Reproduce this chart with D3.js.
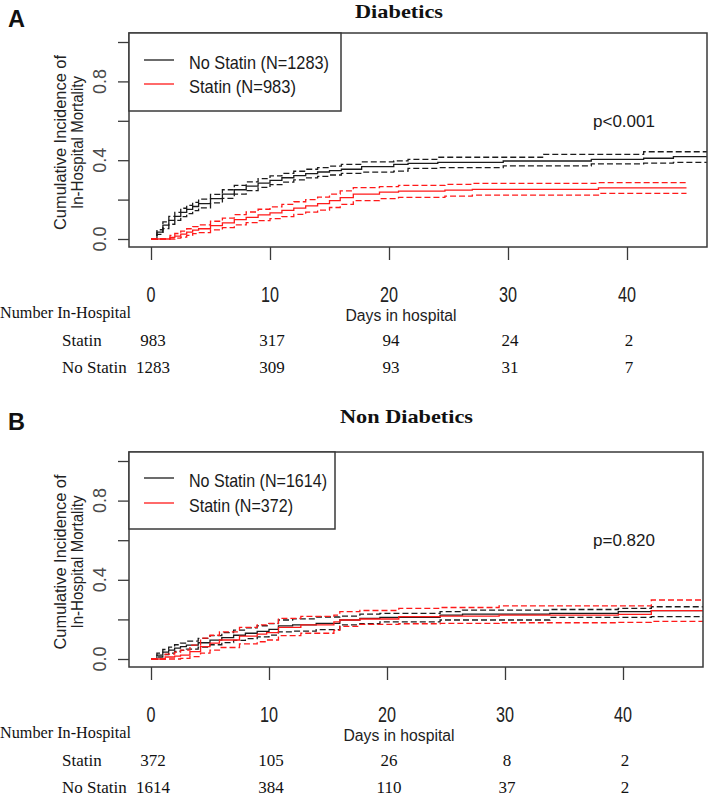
<!DOCTYPE html>
<html><head><meta charset="utf-8">
<script src="https://cdn.jsdelivr.net/npm/d3@7"></script>
<style>body{margin:0;background:#fff}svg{display:block}</style>
</head><body>
<svg id="chart" width="709" height="798"></svg>
<script>
// ---------------- DATA ----------------
const xTicks = [0, 10, 20, 30, 40];
const yTicks = [0, 0.2, 0.4, 0.6, 0.8, 1.0];
const yTickLabels = ["0.0", "", "0.4", "", "0.8", ""];
const groupNames = ["No Statin", "Statin"];

// Panel A: Diabetics
const aTitle = "Diabetics";
const aLegend = ["No Statin (N=1283)", "Statin (N=983)"];
const aPValue = "p<0.001";
const aRiskStatin = [983, 317, 94, 24, 2];
const aRiskNoStatin = [1283, 309, 93, 31, 7];

const aNoStatinT   = [0, 0.5, 1, 1.5, 2, 2.5, 3, 3.5, 4, 5, 6, 7, 8, 9, 10, 11, 12, 13, 14, 15, 16, 17.7, 20.4, 21.6, 24.1, 29.6, 33, 37, 41.4, 43.9, 48];
const aNoStatinEst = [0, .035, .07, .095, .115, .135, .15, .165, .18, .205, .228, .25, .268, .284, .298, .311, .322, .332, .34, .347, .354, .367, .379, .384, .389, .396, .396, .404, .41, .418, .418];
const aNoStatinLo  = [0, .023, .053, .075, .095, .114, .129, .144, .158, .183, .206, .228, .246, .262, .276, .289, .300, .310, .318, .325, .333, .339, .345, .359, .362, .371, .371, .381, .385, .389, .389];
const aNoStatinHi  = [0, .047, .087, .115, .135, .156, .171, .186, .202, .227, .25, .272, .29, .306, .32, .333, .344, .354, .362, .37, .379, .392, .397, .404, .415, .415, .43, .43, .443, .443, .443];

const aStatinT   = [0, 1.6, 2, 2.5, 3, 3.5, 4, 5, 6, 7, 8, 9, 10, 11, 12, 13, 14, 15, 15.9, 17, 19.2, 20.8, 24.7, 27, 37.6, 45];
const aStatinEst = [0, .008, .015, .025, .035, .045, .052, .068, .082, .098, .11, .122, .133, .145, .157, .168, .18, .195, .21, .228, .238, .243, .248, .252, .26, .26];
const aStatinLo  = [0, 0, .004, .01, .018, .027, .032, .046, .058, .072, .083, .093, .103, .114, .125, .136, .147, .16, .176, .195, .205, .211, .218, .223, .232, .232];
const aStatinHi  = [0, .018, .028, .04, .052, .063, .072, .09, .106, .124, .137, .151, .163, .176, .189, .2, .213, .228, .244, .261, .266, .272, .277, .282, .286, .286];

// Panel B: Non Diabetics
const bTitle = "Non Diabetics";
const bLegend = ["No Statin (N=1614)", "Statin (N=372)"];
const bPValue = "p=0.820";
const bRiskStatin = [372, 105, 26, 8, 2];
const bRiskNoStatin = [1614, 384, 110, 37, 2];

const bNoStatinT   = [0, 0.5, 1, 1.5, 2, 2.5, 3, 4, 5, 6, 7, 8, 9, 10, 10.8, 12, 14, 16, 17.7, 19.4, 24.5, 26.4, 33.8, 39.6, 42.4, 48];
const bNoStatinEst = [0, .02, .035, .045, .055, .062, .07, .082, .095, .108, .12, .13, .14, .15, .167, .172, .18, .197, .205, .21, .222, .227, .23, .239, .244, .244];
const bNoStatinLo  = [0, .01, .022, .03, .038, .044, .05, .06, .072, .083, .094, .103, .112, .121, .137, .141, .148, .172, .178, .188, .197, .197, .21, .21, .214, .214];
const bNoStatinHi  = [0, .03, .048, .06, .072, .08, .09, .104, .118, .133, .146, .157, .168, .179, .197, .203, .212, .217, .227, .23, .239, .247, .25, .256, .264, .264];

const bStatinT   = [0, 1.2, 2, 2.5, 3.3, 4.2, 5, 5.8, 7.5, 9, 9.8, 10.8, 12.7, 15.5, 16, 17.7, 21, 24.5, 29.5, 39.6, 42.4, 48];
const bStatinEst = [0, .01, .015, .02, .037, .062, .08, .096, .116, .126, .133, .16, .172, .188, .197, .202, .214, .217, .222, .225, .244, .244];
const bStatinLo  = [0, 0, 0, .003, .012, .03, .045, .058, .076, .087, .096, .118, .13, .145, .165, .175, .178, .18, .183, .185, .19, .19];
const bStatinHi  = [0, .025, .035, .045, .07, .105, .12, .137, .16, .172, .18, .205, .215, .222, .239, .245, .256, .26, .268, .268, .298, .298];

// ---------------- DRAWING ----------------
const svg = d3.select("#chart");
const SANS = "'Liberation Sans', Arial, sans-serif";
const SERIF = "'Liberation Serif', 'Times New Roman', serif";
const BLACK = "#1c1c1c", RED = "#ff1a1a", FRAME = "#3a3a3a";

function txt(g, s, x, y, opts) {
  const t = g.append("text").attr("x", x).attr("y", y).text(s)
    .attr("font-family", opts.family || SANS)
    .attr("font-size", opts.size)
    .attr("fill", opts.fill || "#111")
    .attr("text-anchor", opts.anchor || "start");
  if (opts.weight) t.attr("font-weight", opts.weight);
  if (opts.len) t.attr("textLength", opts.len).attr("lengthAdjust", "spacingAndGlyphs");
  return t;
}

function zip(T, V) { return T.map((t, i) => [t, V[i]]); }

function panel(cfg) {
  const g = svg.append("g");
  const x = d3.scaleLinear().domain([0, 40]).range([cfg.x0, cfg.x40]);
  const y = d3.scaleLinear().domain([0, 1]).range([cfg.y0, cfg.y1]);
  const box = cfg.box;
  const clipId = "clip" + cfg.id;
  svg.append("clipPath").attr("id", clipId).append("rect")
    .attr("x", box.l).attr("y", box.t).attr("width", box.r - box.l).attr("height", box.b - box.t);

  // panel letter & title
  txt(g, cfg.letter, 8, cfg.letterY, {size: 23, weight: "bold", len: 17});
  txt(g, cfg.title, cfg.titleX, cfg.titleY, {family: SERIF, size: 19, weight: "bold", anchor: "start", len: cfg.titleLen});

  // curves
  const line = d3.line().x(d => x(d[0])).y(d => y(d[1])).curve(d3.curveStepAfter);
  const cg = g.append("g").attr("clip-path", `url(#${clipId})`);
  cfg.series.forEach(s => {
    [[s.lo, "6,3"], [s.hi, "6,3"], [s.est, null]].forEach(([v, dash]) => {
      const p = cg.append("path").datum(zip(s.t, v)).attr("d", line)
        .attr("fill", "none").attr("stroke", s.color).attr("stroke-width", 1.3);
      if (dash) p.attr("stroke-dasharray", dash);
    });
  });

  // frame
  g.append("rect").attr("x", box.l).attr("y", box.t).attr("width", box.r - box.l).attr("height", box.b - box.t)
    .attr("fill", "none").attr("stroke", FRAME).attr("stroke-width", 1.5);

  // y axis
  const yAxis = d3.axisLeft(y).tickValues(yTicks).tickSize(11).tickFormat("");
  const ya = g.append("g").attr("transform", `translate(${box.l},0)`).call(yAxis);
  ya.select(".domain").remove();
  ya.selectAll("line").attr("stroke", FRAME).attr("stroke-width", 1.3);
  yTicks.forEach((v, i) => {
    if (!yTickLabels[i]) return;
    g.append("text").attr("transform", `translate(100,${y(v)}) rotate(-90)`)
      .attr("text-anchor", "middle").attr("dy", "0.36em")
      .attr("font-family", SANS).attr("font-size", 18).attr("fill", "#4a4a4a")
      .text(yTickLabels[i]);
  });
  const ymid = (y(0) + y(1)) / 2 + 2;
  g.append("text").attr("transform", `translate(60,${ymid}) rotate(-90)`)
    .attr("text-anchor", "middle").attr("dy", "0.36em")
    .attr("font-family", SANS).attr("font-size", 16).attr("fill", "#222")
    .attr("textLength", 175).attr("lengthAdjust", "spacingAndGlyphs")
    .text("Cumulative Incidence of");
  g.append("text").attr("transform", `translate(77,${ymid}) rotate(-90)`)
    .attr("text-anchor", "middle").attr("dy", "0.36em")
    .attr("font-family", SANS).attr("font-size", 16).attr("fill", "#222")
    .attr("textLength", 133).attr("lengthAdjust", "spacingAndGlyphs")
    .text("In-Hospital Mortality");

  // x axis
  const xAxis = d3.axisBottom(x).tickValues(xTicks).tickSize(13).tickFormat("");
  const xa = g.append("g").attr("transform", `translate(0,${box.b})`).call(xAxis);
  xa.select(".domain").remove();
  xa.selectAll("line").attr("stroke", FRAME).attr("stroke-width", 1.3);
  xTicks.forEach(v => {
    const s = String(v);
    txt(g, s, x(v), box.b + 55, {size: 22, anchor: "middle", fill: "#222", len: s.length * 9});
  });
  txt(g, "Days in hospital", (box.l + box.r) / 2 - 17, box.b + 74, {size: 16, anchor: "middle", fill: "#222", len: 111});

  // legend
  const lg = cfg.legend;
  g.append("rect").attr("x", box.l).attr("y", box.t).attr("width", lg.w).attr("height", lg.h)
    .attr("fill", "#fff").attr("stroke", FRAME).attr("stroke-width", 1.5);
  cfg.series.forEach((s, i) => {
    const cy = box.t + lg.rows[i];
    g.append("line").attr("x1", 144).attr("x2", 174).attr("y1", cy - 2).attr("y2", cy - 2)
      .attr("stroke", s.color).attr("stroke-width", 1.3);
    txt(g, cfg.legendLabels[i], 189, cy + 6.5, {size: 19, fill: "#1a1a1a", len: lg.lens[i]});
  });

  // p value
  txt(g, cfg.pValue, 593, cfg.pY, {size: 17, fill: "#1a1a1a", len: 62});

  // number at risk table
  const tb = box.b;
  txt(g, "Number In-Hospital", 0, tb + 71, {family: SERIF, size: 17, len: 131});
  const rows = [["Statin", cfg.riskStatin], ["No Statin", cfg.riskNoStatin]];
  rows.forEach(([lab, vals], r) => {
    const by = tb + 99 + r * 27;
    txt(g, lab, 62, by, {family: SERIF, size: 17});
    vals.forEach((v, i) => {
      txt(g, String(v), x(xTicks[i]) + 2, by, {family: SERIF, size: 17, anchor: "middle"});
    });
  });
}

panel({
  id: "A", letter: "A", letterY: 27, title: aTitle, titleX: 355, titleY: 18, titleLen: 88,
  box: {l: 129, t: 33, r: 707, b: 247},
  x0: 151, x40: 627, y0: 239, y1: 42,
  series: [
    {t: aNoStatinT, est: aNoStatinEst, lo: aNoStatinLo, hi: aNoStatinHi, color: BLACK},
    {t: aStatinT, est: aStatinEst, lo: aStatinLo, hi: aStatinHi, color: RED}
  ],
  legend: {w: 212, h: 78, rows: [29, 53], lens: [140, 107]},
  legendLabels: aLegend, pValue: aPValue, pY: 127,
  riskStatin: aRiskStatin, riskNoStatin: aRiskNoStatin
});

panel({
  id: "B", letter: "B", letterY: 430, title: bTitle, titleX: 340, titleY: 423, titleLen: 133,
  box: {l: 129, t: 452, r: 703, b: 667},
  x0: 151, x40: 623, y0: 659, y1: 461,
  series: [
    {t: bNoStatinT, est: bNoStatinEst, lo: bNoStatinLo, hi: bNoStatinHi, color: BLACK},
    {t: bStatinT, est: bStatinEst, lo: bStatinLo, hi: bStatinHi, color: RED}
  ],
  legend: {w: 206, h: 77, rows: [28, 53], lens: [138, 104]},
  legendLabels: bLegend, pValue: bPValue, pY: 546,
  riskStatin: bRiskStatin, riskNoStatin: bRiskNoStatin
});
</script>
</body></html>
